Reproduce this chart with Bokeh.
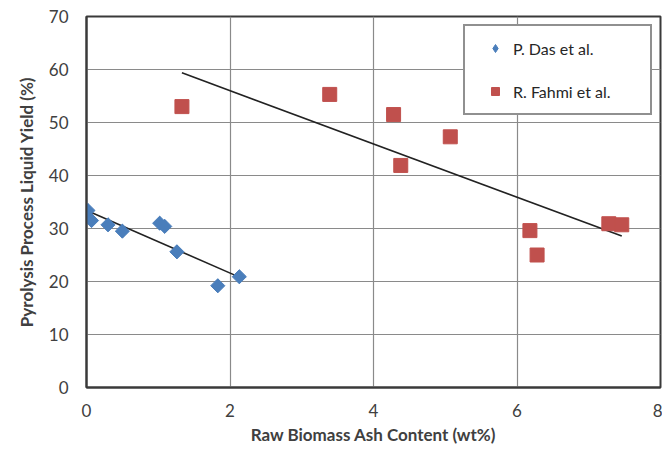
import numpy as np
from bokeh.plotting import figure
from bokeh.models import FixedTicker, Range1d, Legend, LegendItem
from bokeh.embed import file_html
from bokeh.resources import INLINE

# P. Das et al.
das_ash = [0.02, 0.07, 0.30, 0.50, 1.02, 1.09, 1.26, 1.83, 2.13]
das_yield = [33.4, 31.5, 30.7, 29.5, 31.0, 30.4, 25.6, 19.2, 20.9]

# R. Fahmi et al.
fahmi_ash = [1.33, 3.39, 4.28, 4.38, 5.07, 6.18, 6.28, 7.28, 7.46]
fahmi_yield = [53.0, 55.3, 51.5, 41.9, 47.3, 29.6, 25.0, 30.9, 30.7]

x_ticks = [0, 2, 4, 6, 8]
y_ticks = [0, 10, 20, 30, 40, 50, 60, 70]

FONT = "Lato"
BLUE = "#4a7ebb"
RED = "#c0504d"

p = figure(width=662, height=448, output_backend="svg", toolbar_location=None,
           x_range=Range1d(0, 8), y_range=Range1d(0, 70),
           x_axis_label="Raw Biomass Ash Content (wt%)",
           y_axis_label="Pyrolysis Process Liquid Yield (%)",
           min_border_left=86, min_border_right=2, min_border_top=16, min_border_bottom=61)

p.outline_line_color = "#3a3a3a"
p.outline_line_width = 2
p.background_fill_color = "white"
p.border_fill_color = "white"

p.xaxis.ticker = FixedTicker(ticks=x_ticks)
p.yaxis.ticker = FixedTicker(ticks=y_ticks)
p.xgrid.ticker = FixedTicker(ticks=x_ticks)
p.ygrid.ticker = FixedTicker(ticks=y_ticks)
p.grid.grid_line_color = "#8a8a8a"
p.grid.grid_line_width = 1.2

for ax in (p.xaxis, p.yaxis):
    ax.axis_line_color = "#3a3a3a"
    ax.axis_line_width = 2
    ax.major_tick_line_color = None
    ax.minor_tick_line_color = None
    ax.major_label_text_font = FONT
    ax.major_label_text_font_size = "17px"
    ax.major_label_text_color = "#404040"
    ax.axis_label_text_font = FONT
    ax.axis_label_text_font_size = "17px"
    ax.axis_label_text_font_style = "bold"
    ax.axis_label_text_color = "#404040"
p.xaxis.major_label_standoff = 10
p.yaxis.major_label_standoff = 12
p.xaxis.axis_label_standoff = 4
p.yaxis.axis_label_standoff = 9

# linear trend lines from the data
def trend(xs, ys):
    k, b = np.polyfit(xs, ys, 1)
    xx = [min(xs), max(xs)]
    return xx, [k * v + b for v in xx]

tx, ty = trend(das_ash, das_yield)
p.line(tx, ty, line_color="#222222", line_width=1.6)
tx, ty = trend(fahmi_ash, fahmi_yield)
p.line(tx, ty, line_color="#222222", line_width=1.6)

# narrow diamond for the legend key, covered by rotated squares in the plot
r_das_key = p.scatter(das_ash, das_yield, marker="diamond", size=13,
                      fill_color=BLUE, line_color=BLUE)
p.scatter(das_ash, das_yield, marker="square", angle=np.pi / 4, size=10,
          fill_color=BLUE, line_color=BLUE)
r_fahmi = p.scatter(fahmi_ash, fahmi_yield, marker="square", size=14,
                    fill_color=RED, line_color=RED)

legend = Legend(items=[LegendItem(label="P. Das et al.", renderers=[r_das_key]),
                       LegendItem(label="R. Fahmi et al.", renderers=[r_fahmi])],
                location="top_right")
legend.margin = 8
legend.padding = 12
legend.spacing = 23
legend.label_height = 20
legend.glyph_height = 20
legend.glyph_width = 36
legend.label_standoff = 0
legend.label_width = 125
legend.label_text_font = FONT
legend.label_text_font_size = "16px"
legend.label_text_color = "#262626"
legend.border_line_color = "#222222"
legend.border_line_width = 2
legend.background_fill_alpha = 1
p.add_layout(legend)

open("out.html", "w").write(file_html(p, INLINE))
